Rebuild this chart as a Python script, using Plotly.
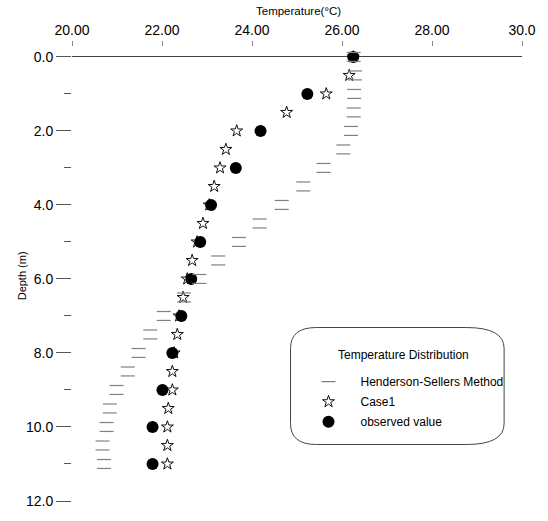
import plotly.graph_objects as go

# ---------------- data ----------------
obs_depth = [0, 1, 2, 3, 4, 5, 6, 7, 8, 9, 10, 11]
obs_temp = [26.25, 25.23, 24.19, 23.64, 23.09, 22.85, 22.65, 22.43, 22.23, 22.01, 21.79, 21.79]

case1_depth = [0, 0.5, 1, 1.5, 2, 2.5, 3, 3.5, 4, 4.5, 5, 5.5, 6, 6.5, 7, 7.5, 8, 8.5, 9, 9.5, 10, 10.5, 11]
case1_temp = [26.25, 26.16, 25.65, 24.77, 23.66, 23.42, 23.29, 23.16, 23.05, 22.91, 22.78, 22.67,
              22.56, 22.47, 22.38, 22.34, 22.27, 22.23, 22.23, 22.14, 22.12, 22.12, 22.12]

hs_depth = [0, 0.5, 1, 1.5, 2, 2.5, 3, 3.5, 4, 4.5, 5, 5.5, 6, 6.5, 7, 7.5, 8, 8.5, 9, 9.5, 10, 10.5, 11]
hs_temp = [26.26, 26.29, 26.27, 26.26, 26.20, 26.03, 25.59, 25.14, 24.66, 24.17, 23.71, 23.25,
           22.83, 22.49, 22.04, 21.74, 21.48, 21.24, 20.99, 20.84, 20.77, 20.68, 20.71]

x_tickvals = [20, 22, 24, 26, 28, 30]
x_ticktext = ["20.00", "22.00", "24.00", "26.00", "28.00", "30.0"]
y_tickvals = [0, 2, 4, 6, 8, 10, 12]
y_ticktext = ["0.0", "2.0", "4.0", "6.0", "8.0", "10.0", "12.0"]

# ---------------- layout geometry (pixels) ----------------
W_FIG, H_FIG = 548, 521
PL, PR, PT, PB = 72, 525, 47, 505
PW, PH = PR - PL, PB - PT
Y_TOP, Y_BOT = -0.268, 12.0
PX_PER_M = PH / (Y_BOT - Y_TOP)
HALF = 4.5 / PX_PER_M  # half height of the open-square marker


def fx(x):
    return (x - PL) / PW


def fy(y):
    return 1 - (y - PT) / PH


FONT = "Liberation Sans, Arial, sans-serif"

fig = go.Figure()

# Henderson-Sellers: open boxes drawn as top + bottom edges (two shifted overlay axes)
fig.add_trace(go.Scatter(
    x=hs_temp, y=hs_depth, mode="markers", name="Henderson-Sellers Method",
    yaxis="y2", cliponaxis=False, legendgroup="hs",
    marker=dict(symbol="line-ew", size=10, line=dict(color="#808080", width=1.2)),
))
fig.add_trace(go.Scatter(
    x=hs_temp, y=hs_depth, mode="markers", name="Henderson-Sellers Method",
    yaxis="y3", showlegend=False, cliponaxis=False, legendgroup="hs",
    marker=dict(symbol="line-ew", size=10, line=dict(color="#808080", width=1.2)),
))
fig.add_trace(go.Scatter(
    x=case1_temp, y=case1_depth, mode="markers", name="Case1", legendgroup="c1",
    marker=dict(symbol="star-open", size=9, color="#111", line=dict(color="#111", width=1)),
))
fig.add_trace(go.Scatter(
    x=obs_temp, y=obs_depth, mode="markers", name="observed value", legendgroup="ob",
    marker=dict(symbol="circle", size=12, color="#000"),
))

fig.update_layout(
    width=W_FIG, height=H_FIG,
    margin=dict(l=PL, r=W_FIG - PR, t=PT, b=H_FIG - PB),
    paper_bgcolor="white", plot_bgcolor="white",
    font=dict(family=FONT, color="#000", size=14),
    xaxis=dict(
        side="top", range=[20, 30], tickvals=x_tickvals, ticktext=x_ticktext,
        ticks="outside", ticklen=5, tickcolor="#888", tickwidth=1,
        showline=False, showgrid=False, zeroline=False,
        tickfont=dict(size=14, family=FONT, color="#000"),
    ),
    yaxis=dict(
        range=[Y_BOT, Y_TOP], tickvals=y_tickvals, ticktext=y_ticktext,
        ticks="outside", ticklen=15, tickcolor="#555", tickwidth=1,
        minor=dict(dtick=1, tick0=0, ticks="outside", ticklen=7, tickcolor="#555", tickwidth=1),
        showline=False, showgrid=False,
        zeroline=True, zerolinecolor="#444", zerolinewidth=1,
        tickfont=dict(size=14, family=FONT, color="#000"),
    ),
    yaxis2=dict(range=[Y_BOT + HALF, Y_TOP + HALF], overlaying="y", visible=False),
    yaxis3=dict(range=[Y_BOT - HALF, Y_TOP - HALF], overlaying="y", visible=False),
    legend=dict(
        x=fx(298), y=fy(370), xanchor="left", yanchor="top",
        bgcolor="rgba(0,0,0,0)", borderwidth=0,
        font=dict(size=12, family=FONT, color="#000"),
        itemwidth=54, traceorder="grouped", tracegroupgap=1,
    ),
    showlegend=True,
)

# axis titles
fig.add_annotation(text="Temperature(°C)", xref="paper", yref="paper",
                   x=fx(300), y=fy(11), yanchor="middle", showarrow=False,
                   font=dict(size=11.5, family=FONT, color="#000"))
fig.add_annotation(text="Depth (m)", xref="paper", yref="paper",
                   x=fx(22), y=fy(278), xanchor="center", showarrow=False, textangle=-90,
                   font=dict(size=11, family=FONT, color="#000"))
# legend heading
fig.add_annotation(text="Temperature Distribution", xref="paper", yref="paper",
                   x=fx(338), y=fy(358), xanchor="left", yanchor="middle", showarrow=False,
                   font=dict(size=12, family=FONT, color="#000"))

# rounded legend frame
L, R, T, B = 292, 507, 330, 448
rxl, rxr, ry = 26, 38, 21
pts = [
    ("M", (L + rxl, T)), ("L", (R - rxr, T)),
    ("Q", (R, T), (R, T + ry)), ("L", (R, B - ry)),
    ("Q", (R, B), (R - rxr, B)), ("L", (L + rxl, B)),
    ("Q", (L, B), (L, B - ry)), ("L", (L, T + ry)),
    ("Q", (L, T), (L + rxl, T)),
]
path = ""
for item in pts:
    cmd = item[0]
    coords = " ".join(f"{fx(p[0]):.5f},{fy(p[1]):.5f}" for p in item[1:])
    path += f"{cmd} {coords} "
path += "Z"
fig.add_shape(type="path", path=path, xref="paper", yref="paper",
              line=dict(color="#444", width=1), fillcolor="rgba(0,0,0,0)")

fig.write_html("out.html")
